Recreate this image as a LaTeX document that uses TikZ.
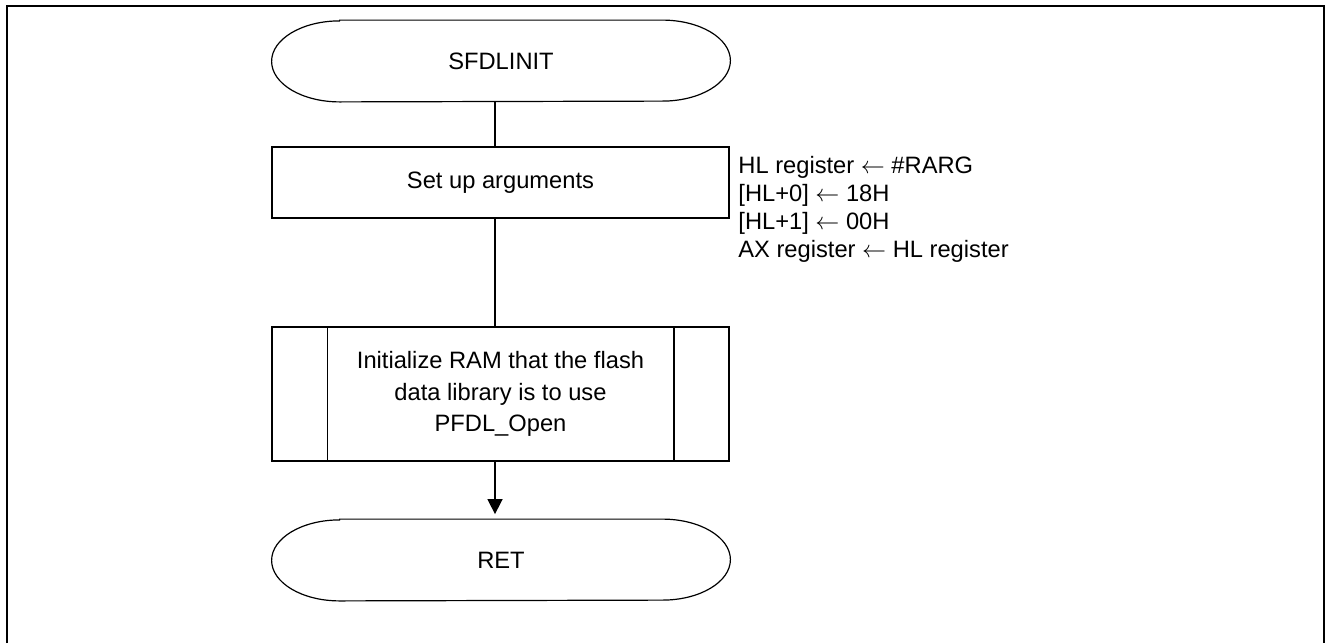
\documentclass[tikz,border=0pt]{standalone}
\usepackage{fontspec}
\setmainfont{Liberation Sans}
\usetikzlibrary{arrows.meta,positioning}

\begin{document}
\begin{tikzpicture}[x=0.5pt, y=-0.5pt,
		every node/.style={font=\fontsize{11.85}{14}\selectfont, inner sep=0pt},
		term/.style={minimum width=229pt, minimum height=40.5pt},
		termline/.style={line width=0.6pt},
		box/.style={draw, line width=0.75pt, minimum width=228.5pt},
		flow/.style={line width=0.75pt}]
	\useasboundingbox (0,0) rectangle (1325,643);
	\draw[line width=1pt] (7,643) -- (7,6) -- (1324,6) -- (1324,643);
	\coordinate (spine) at (495,0);

	\node[term] (start) at (501,61) {SFDLINIT};
	\node[box, minimum height=35.5pt] (args) at (500.5,182.5) {Set up arguments};
	\node[box, minimum height=67pt, align=center, font=\fontsize{11.85}{15.75}\selectfont] (init) at (500.5,394)
		{Initialize RAM that the flash\\data library is to use\\PFDL\_Open};
	\node[term] (ret) at (501,560) {RET};
	\node[anchor=base west, align=left] (regs) at (738,257.5)
		{HL register $\leftarrow$ \#RARG\\{}[HL+0] $\leftarrow$ 18H\\{}[HL+1] $\leftarrow$ 00H\\AX register $\leftarrow$ HL register};

	% terminal outlines
	\foreach \t in {start,ret}
		\draw[termline] ([xshift=34pt]\t.north west) -- ([xshift=-34pt]\t.north east)
			arc[start angle=90, end angle=-90, x radius=34pt, y radius=20.25pt]
			-- ([xshift=34pt]\t.south west)
			arc[start angle=270, end angle=90, x radius=34pt, y radius=20.25pt] -- cycle;
	\draw[flow] ([xshift=28pt]init.north west) -- ([xshift=28pt]init.south west);
	\draw[flow] ([xshift=-28pt]init.north east) -- ([xshift=-28pt]init.south east);

	\draw[flow] (start.south -| spine) -- (args.north -| spine);
	\draw[flow] (args.south -| spine) -- (init.north -| spine);
	\draw[flow, -{Triangle[length=7.5pt, width=7.5pt]}, shorten >=2.5pt] (init.south -| spine) -- (ret.north -| spine);
\end{tikzpicture}
\end{document}
